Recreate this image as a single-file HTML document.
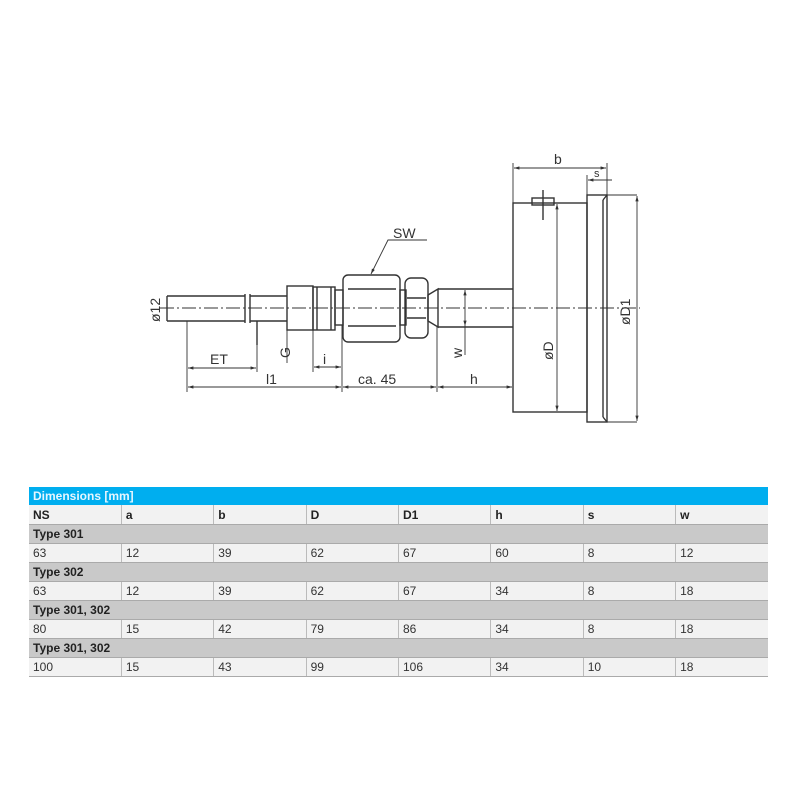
<!DOCTYPE html>
<html><head><style>
body{margin:0;width:800px;height:800px;background:#fff;position:relative;font-family:"Liberation Sans",sans-serif;overflow:hidden}
svg{position:absolute;left:0;top:0}
table{position:absolute;left:29px;top:487px;width:739px;border-collapse:collapse;font-size:12px;color:#333;table-layout:fixed}
td{height:18px;padding:0 0 0 4px;border-right:1px solid #bbb;border-bottom:1px solid #aaa;background:#f2f2f2;line-height:18px;white-space:nowrap}
tr.b td{background:#00aeef;color:#e6f6ff;font-weight:bold;border:none;height:18px}
tr.h td{font-weight:bold;color:#222;height:19px}
tr.t td{background:#c9c9c9;font-weight:bold;color:#222;border-right:none}
td:last-child{border-right:none}
</style></head><body>
<svg width="800" height="480" viewBox="0 0 800 480" fill="none" stroke="#333" stroke-width="1.4" font-family="Liberation Sans, sans-serif">
<defs><marker id="a" viewBox="0 0 10 10" refX="10" refY="5" markerWidth="6" markerHeight="6" orient="auto-start-reverse"><path d="M0 2 L10 5 L0 8Z" fill="#333" stroke="none"/></marker></defs>
<line x1="160" y1="308" x2="640" y2="308" stroke-dasharray="14,3,2,3" stroke-width="0.9"/>
<path d="M167 296 H245 M167 321 H245 M167 296 V321 M245 294 V323 M250 294 V323 M250 296 H287 M250 321 H287"/>
<path d="M257 321 V345"/>
<rect x="287" y="286" width="26" height="44"/>
<rect x="313" y="287" width="22" height="43"/>
<line x1="317" y1="287" x2="317" y2="330"/><line x1="331" y1="287" x2="331" y2="330"/>
<rect x="335" y="290" width="8" height="35"/>
<rect x="343" y="275" width="57" height="67" rx="5"/>
<line x1="348" y1="289" x2="396" y2="289"/><line x1="348" y1="326" x2="396" y2="326"/>
<rect x="400" y="290" width="6" height="35"/>
<rect x="405" y="278" width="23" height="60" rx="6"/>
<line x1="407" y1="298" x2="426" y2="298"/><line x1="407" y1="318" x2="426" y2="318"/>
<path d="M428 295 L438 289 V327 L428 321 Z"/>
<path d="M438 289 H513 M438 327 H513"/>
<rect x="513" y="203" width="74" height="209"/>
<rect x="587" y="195" width="20" height="227"/>
<line x1="603" y1="200" x2="603" y2="417"/>
<path d="M603 200 L607 195 M603 417 L607 422"/>
<rect x="532" y="198" width="22" height="7"/><line x1="543" y1="190" x2="543" y2="220"/>
<g stroke-width="0.9">
<path d="M513 203 V163 M607 195 V163 M587 195 V175"/>
<path d="M514 168 H606" marker-start="url(#a)" marker-end="url(#a)"/>
<path d="M588 180 H612" marker-start="url(#a)"/>
<path d="M607 195 H637 M607 422 H637"/>
<path d="M637 196 V421" marker-start="url(#a)" marker-end="url(#a)"/>
<path d="M557 204 V411" marker-start="url(#a)" marker-end="url(#a)"/>
<path d="M187 321 V392 M342 325 V392 M437 327 V392"/>
<path d="M188 387 H341" marker-start="url(#a)" marker-end="url(#a)"/>
<path d="M343 387 H436" marker-start="url(#a)" marker-end="url(#a)"/>
<path d="M438 387 H512" marker-start="url(#a)" marker-end="url(#a)"/>
<path d="M257 345 V372"/>
<path d="M188 368 H256" marker-start="url(#a)" marker-end="url(#a)"/>
<path d="M313 330 V372"/>
<path d="M314 367 H341" marker-start="url(#a)" marker-end="url(#a)"/>
<path d="M287 330 V363"/>
<path d="M465 290 V326" marker-start="url(#a)" marker-end="url(#a)"/>
<path d="M465 326 V355"/>
<path d="M427 240 H388 L371 274" marker-end="url(#a)"/>
</g>
<g fill="#333" stroke="none" font-size="14">
<text x="393" y="238">SW</text>
<text x="554" y="164">b</text>
<text x="594" y="177" font-size="11">s</text>
<text x="210" y="364">ET</text>
<text x="266" y="384">l1</text>
<text x="358" y="384">ca. 45</text>
<text x="470" y="384">h</text>
<text x="323" y="364">i</text>
<text transform="translate(160,322) rotate(-90)">ø12</text>
<text transform="translate(290,358) rotate(-90)">G</text>
<text transform="translate(462,358) rotate(-90)">w</text>
<text transform="translate(553,360) rotate(-90)">øD</text>
<text transform="translate(630,325) rotate(-90)">øD1</text>
</g>
</svg>
<table>
<tr class="b"><td colspan="8">Dimensions [mm]</td></tr>
<tr class="h"><td>NS</td><td>a</td><td>b</td><td>D</td><td>D1</td><td>h</td><td>s</td><td>w</td></tr>
<tr class="t"><td colspan="8">Type 301</td></tr>
<tr><td>63</td><td>12</td><td>39</td><td>62</td><td>67</td><td>60</td><td>8</td><td>12</td></tr>
<tr class="t"><td colspan="8">Type 302</td></tr>
<tr><td>63</td><td>12</td><td>39</td><td>62</td><td>67</td><td>34</td><td>8</td><td>18</td></tr>
<tr class="t"><td colspan="8">Type 301, 302</td></tr>
<tr><td>80</td><td>15</td><td>42</td><td>79</td><td>86</td><td>34</td><td>8</td><td>18</td></tr>
<tr class="t"><td colspan="8">Type 301, 302</td></tr>
<tr><td>100</td><td>15</td><td>43</td><td>99</td><td>106</td><td>34</td><td>10</td><td>18</td></tr>
</table>
</body></html>
